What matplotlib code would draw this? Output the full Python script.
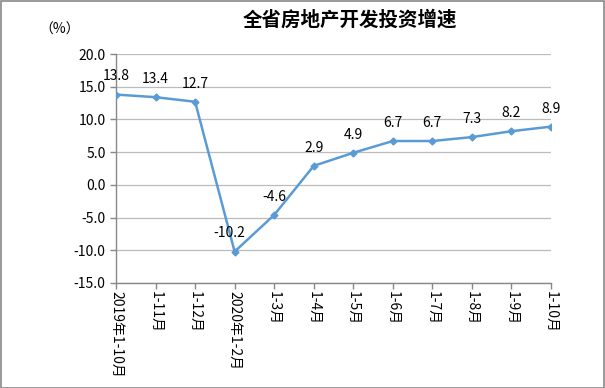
import matplotlib.pyplot as plt
import numpy as np

plt.rcParams['font.family'] = ['Noto Sans CJK SC', 'DejaVu Sans']

months = ['2019年1-10月', '1-11月', '1-12月', '2020年1-2月', '1-3月', '1-4月',
          '1-5月', '1-6月', '1-7月', '1-8月', '1-9月', '1-10月']
growth = [13.8, 13.4, 12.7, -10.2, -4.6, 2.9, 4.9, 6.7, 6.7, 7.3, 8.2, 8.9]
yticks = [-15, -10, -5, 0, 5, 10, 15, 20]

fig = plt.figure(figsize=(6.05, 3.88), dpi=100)
ax = fig.add_axes([116 / 605, 1 - 283 / 388, 435 / 605, 229 / 388])

x = np.arange(len(months))
line_color = '#5B9BD5'
ax.plot(x, growth, color=line_color, linewidth=1.8, marker='D', markersize=3.5,
        markerfacecolor=line_color, markeredgecolor=line_color, zorder=3)

for xi, v in zip(x, growth):
    dx = -4 if v == -10.2 else 0
    ax.annotate(f'{v:.1f}', (xi, v), xytext=(dx, 8), textcoords='offset points',
                ha='center', va='bottom', fontsize=10)

ax.set_xlim(0, len(months) - 1)
ax.set_ylim(-15, 20)
ax.set_yticks(yticks)
ax.set_yticklabels([f'{t:.1f}' for t in yticks], fontsize=10)
ax.set_xticks(x)
ax.set_xticklabels(months, rotation=-90, fontsize=10, va='top', ha='center')
ax.tick_params(axis='both', length=4, color='#888888', width=1)
ax.tick_params(axis='x', direction='out', pad=2)
ax.grid(axis='y', color='#BBBBBB', linewidth=0.9)
ax.set_axisbelow(True)
for s in ['top', 'right']:
    ax.spines[s].set_visible(False)
for s in ['left', 'bottom']:
    ax.spines[s].set_color('#888888')
    ax.spines[s].set_linewidth(1)

fig.text(350 / 605, 1 - 20 / 388, '全省房地产开发投资增速', ha='center', va='center',
         fontsize=14, fontweight='bold')
fig.text(60 / 605, 1 - 30 / 388, '（%）', ha='center', va='center', fontsize=10)

fig.patches.append(plt.Rectangle((0.001, 0.001), 0.997, 0.997, transform=fig.transFigure,
                                 fill=False, edgecolor='#888888', linewidth=1.2))

fig.savefig('out.png', dpi=100)
